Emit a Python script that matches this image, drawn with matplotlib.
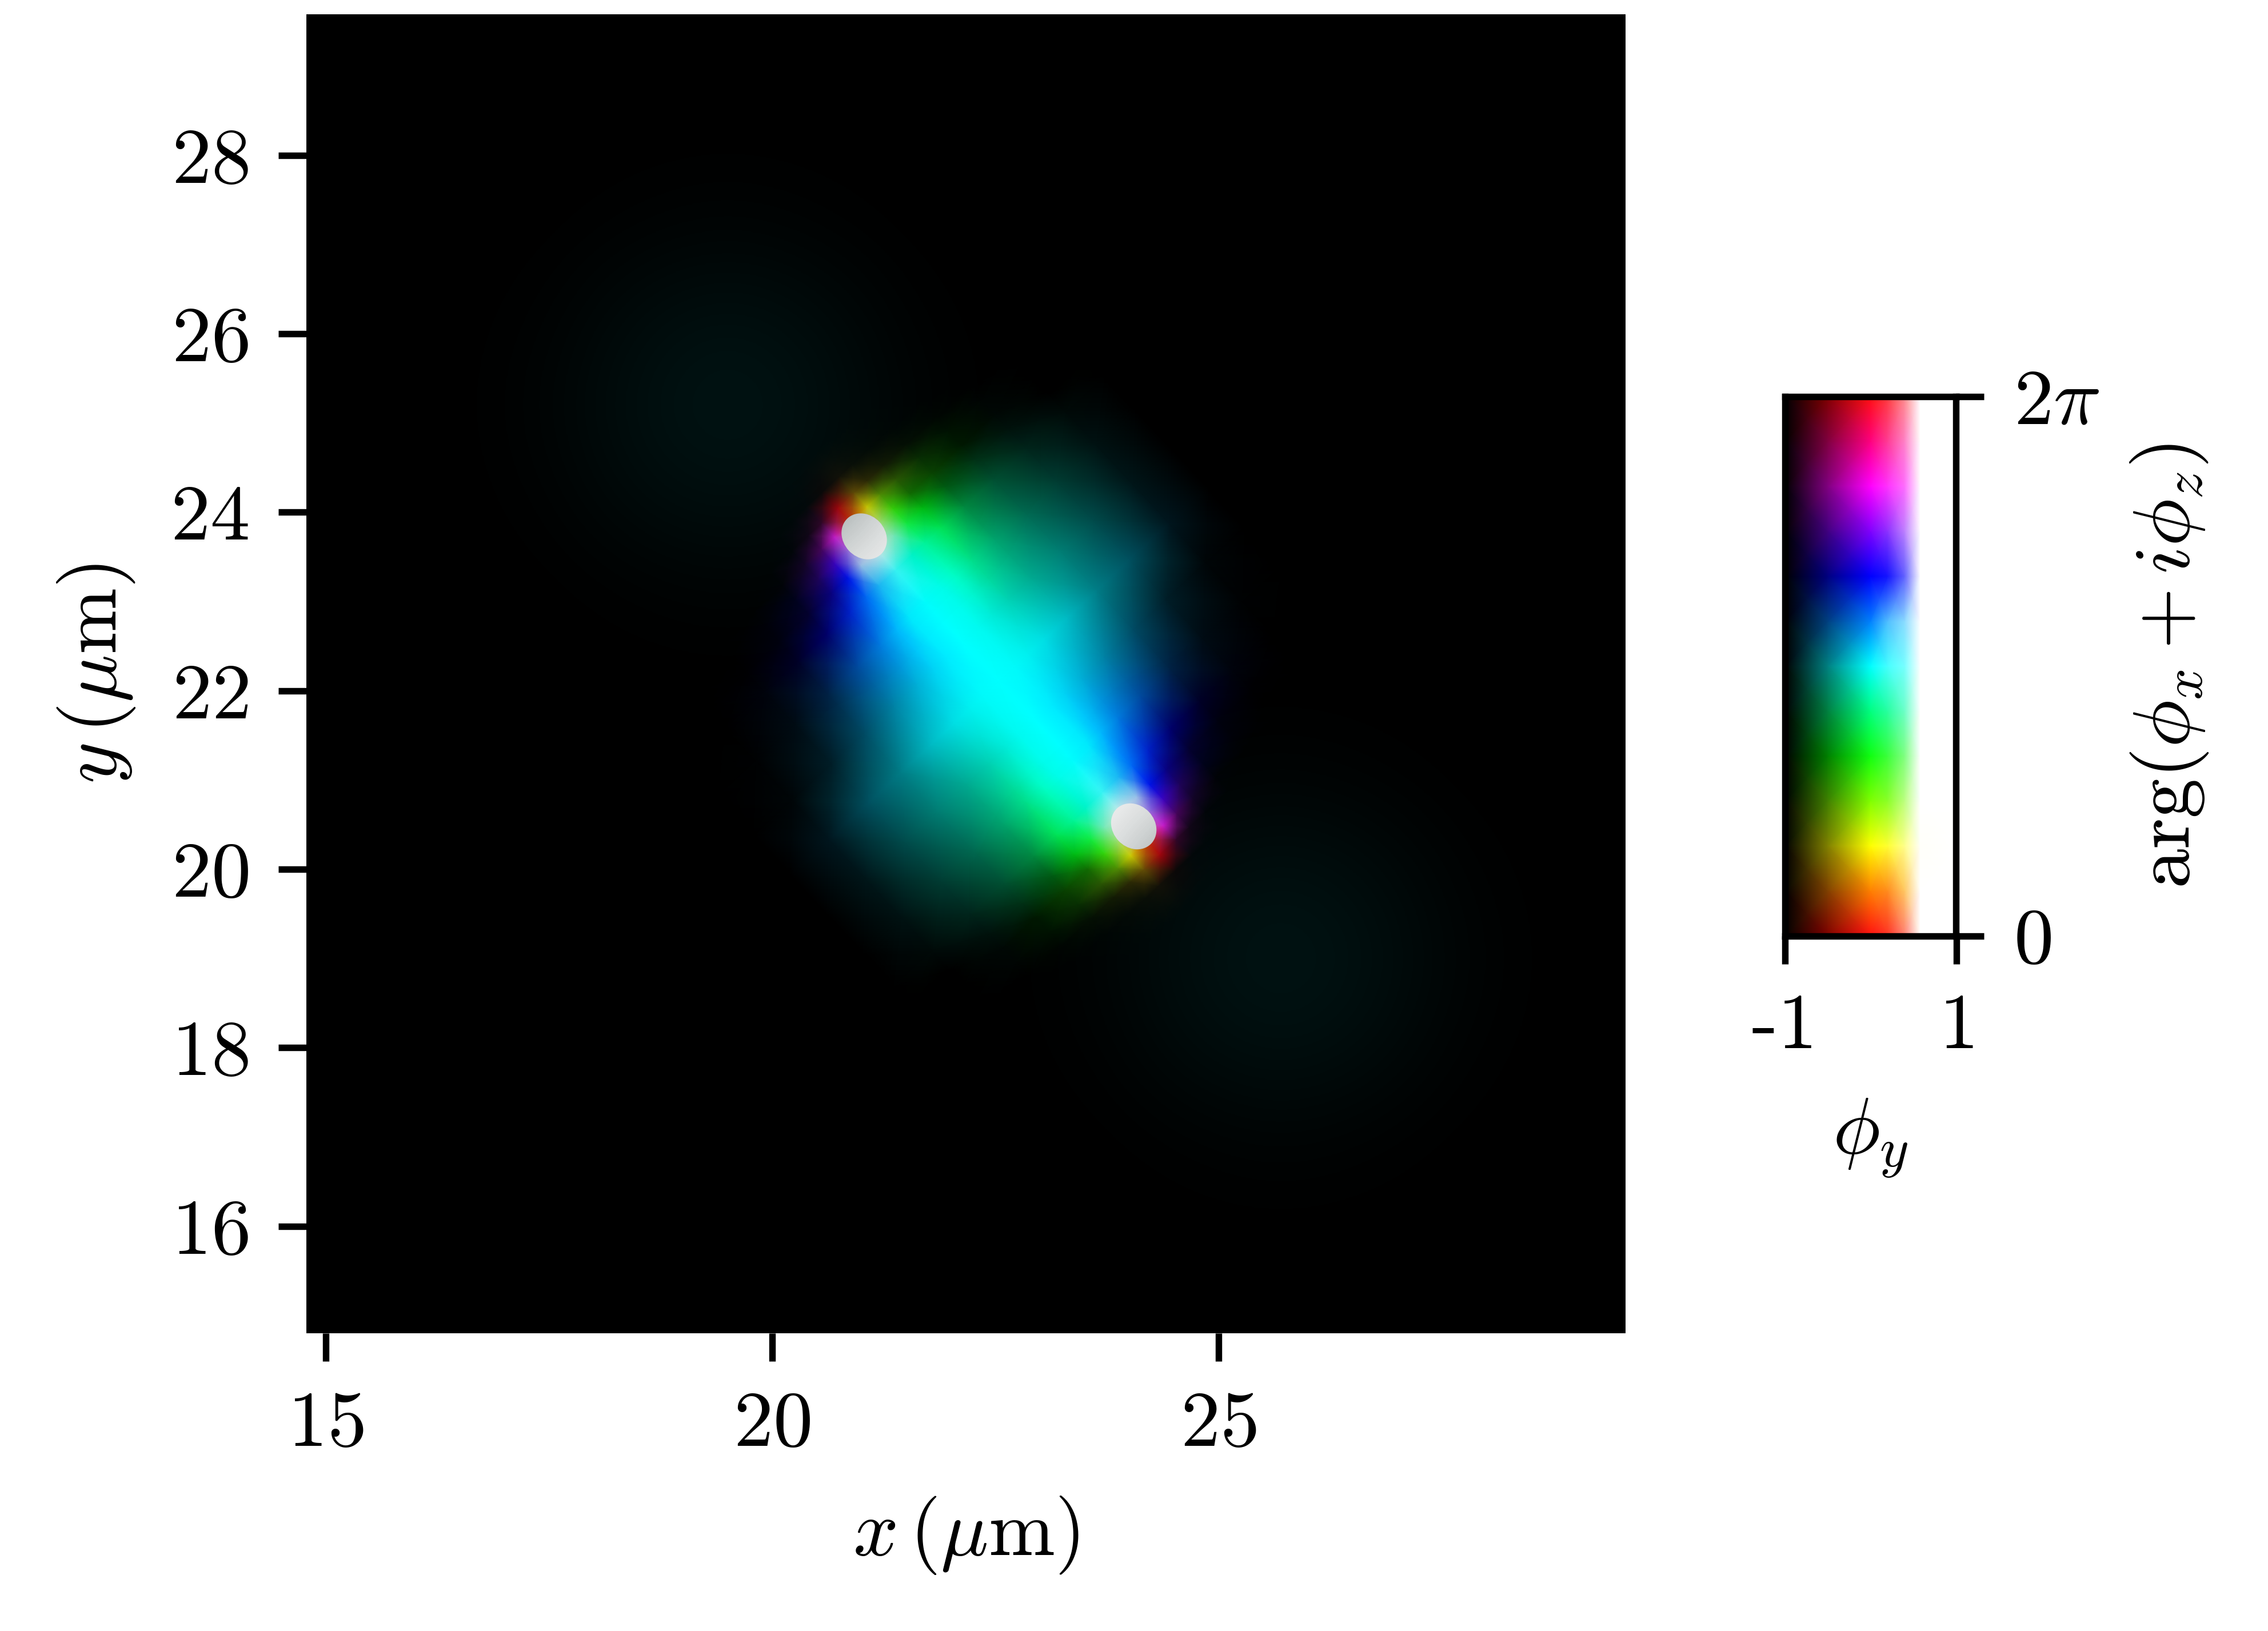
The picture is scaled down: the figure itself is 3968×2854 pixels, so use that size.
import numpy as np
import matplotlib
matplotlib.use("Agg")
import matplotlib.pyplot as plt
from matplotlib.colors import LinearSegmentedColormap, to_rgb
from matplotlib.patches import Ellipse

plt.rcParams["font.family"] = ["cmr10", "DejaVu Sans"]
plt.rcParams["mathtext.fontset"] = "cm"
plt.rcParams["axes.unicode_minus"] = False
plt.rcParams["axes.formatter.use_mathtext"] = True

# field colours, on a frame rotated along the two cores
CORE_A = (21.03, 23.73)
CORE_B = (24.05, 20.48)
CORE_LONG = 0.55
CORE_SHORT = 0.47
V_NODES = [-3.2, -2.6, -2.0, -1.5, -1.05, -0.7, -0.45, -0.25, 0, 0.25, 0.45, 0.7, 1.05, 1.5, 2.0, 2.6, 3.2]
U_NODES = [-3.3, -2.9, -2.65, -2.44, -2.22, -2.0, -1.7, -1.2, -0.6, 0]
FIELD_HALF = [
    "000000 000000 000000 000000 000000 000000 000000 000000 000000 000000 000000 000000 000000 000000 000000 000000 000000",
    "000000 000000 000000 000000 000000 000000 020002 050003 140000 1e0f00 0f0c00 050600 010200 000000 000000 000000 000000",
    "000000 000000 000000 000000 000000 030005 190019 460032 e6000a 8c6400 3c3200 191e00 050f00 000500 000000 000000 000000",
    "000000 000000 000000 000000 020005 19002d 5a006e ff1eff ff3c0a fffa00 64aa00 326400 0a3200 001200 000503 000000 000000",
    "000000 000000 000000 000008 02001e 230064 4600dc aa78ff ffffff b4ff78 3cf00a 147800 0a4600 001900 000805 000000 000000",
    "000000 000000 000003 00000f 050032 0a008c 0014ff aad2ff ebffff 82ffc8 14ff46 00c814 005f14 003216 00120c 000000 000000",
    "000000 000000 00030c 000028 00006e 0023d2 006eff 1ebeff 3cffff 00ffd2 00ffa0 00eb5a 008c41 005032 00261c 000a08 000000",
    "000000 000203 000c14 002346 004ba0 007de1 00b9ff 00ebff 00ffff 00ffeb 00ffc8 00e18c 00a56e 006950 003c32 001212 000000",
    "000000 000608 001e28 004b64 0082a5 00afd7 00d2f5 00ebff 00ffff 00faf0 00ebd7 00d2b4 00aa91 007d73 004b4b 001619 000000",
    "000000 00161e 00505f 007d87 00b9c3 00dee4 00f0f0 00fafa 00ffff 00fafa 00f0f0 00dee4 00b9c3 007d87 00505f 00161e 000000",
]

# faint teal glow beyond each core, 1 um spacing
GLOW_A_CENTRE = (19.5, 25.2)
GLOW_B_CENTRE = (25.7, 19.0)
GLOW_PATCH = [
    [0, 0, 0, 0, 0, 0, 0],
    [0, 0, 0.1, 0.2, 0.1, 0, 0],
    [0, 0.1, 0.5, 0.7, 0.5, 0.1, 0],
    [0, 0.2, 0.7, 1.0, 0.7, 0.2, 0],
    [0, 0.1, 0.5, 0.7, 0.5, 0.1, 0],
    [0, 0, 0.1, 0.2, 0.1, 0, 0],
    [0, 0, 0, 0, 0, 0, 0],
]

# colour key: rows go up the phase axis, columns across phi_y
KEY_PHI = [-1.0, -0.5, 0.0, 0.2, 0.4, 0.58, 1.0]
KEY_PHASE = [i * np.pi / 6 for i in range(13)]
KEY_COLOURS = [
    "000000 800000 ff1010 ff3228 ff8278 ffffff ffffff",
    "000000 804000 ff8000 ff8c1e ffc864 ffffff ffffff",
    "000000 808000 ffff00 ffff32 ffff8c fffffa ffffff",
    "000000 408000 80ff00 8cff28 beff82 ffffff ffffff",
    "000000 008000 10ff10 3cff3c 82ff82 ffffff ffffff",
    "000000 008040 00ff80 28ffa0 6effc8 ffffff ffffff",
    "000000 008080 00ffff 46ffff 78ffff ffffff ffffff",
    "000000 004080 0080ff 50beff 8cdcff ffffff ffffff",
    "000000 000080 0000ff 1414ff 6464ff ffffff ffffff",
    "000000 400080 8000ff 8c32ff be82ff ffffff ffffff",
    "000000 800080 ff00ff ff32ff ff6eff ffffff ffffff",
    "000000 800040 ff0080 ff3c96 ff82c8 ffffff ffffff",
    "000000 800000 ff1010 ff3c3c ff8c8c ffffff ffffff",
]

X_TICKS = [15, 20, 25]
Y_TICKS = [16, 18, 20, 22, 24, 26, 28]
X_LIM = (14.78, 29.56)
Y_LIM = (14.8, 29.58)

W, H = 3968, 2854
TICK_LEN = 5.88
TICK_W = 1.37
FS = 16.7


def hex_table(rows):
    return np.array([[to_rgb("#" + c) for c in r.split()] for r in rows])


def main():
    fig = plt.figure(figsize=(W / 600, H / 600), dpi=600)
    ax = fig.add_axes([536 / W, (H - 2333) / H, 2308 / W, 2308 / H], facecolor="black")
    for s in ax.spines.values():
        s.set_visible(False)

    half = hex_table(FIELD_HALF)
    colours = np.vstack([half, half[-2::-1, ::-1]])
    u = np.array(U_NODES + [-x for x in U_NODES[-2::-1]])
    v = np.array(V_NODES)
    cx, cy = (CORE_A[0] + CORE_B[0]) / 2, (CORE_A[1] + CORE_B[1]) / 2
    dx, dy = CORE_B[0] - CORE_A[0], CORE_B[1] - CORE_A[1]
    d = np.hypot(dx, dy)
    eu = (dx / d, dy / d)
    ev = (-dy / d, dx / d)
    uu, vv = np.meshgrid(u, v, indexing="ij")
    ax.pcolormesh(cx + uu * eu[0] + vv * ev[0], cy + uu * eu[1] + vv * ev[1],
                  colours, shading="gouraud", rasterized=True)

    # saturated white cores
    angle = np.degrees(np.arctan2(dy, dx))
    for c in (CORE_A, CORE_B):
        ax.add_patch(Ellipse(c, CORE_LONG, CORE_SHORT, angle=angle, fc="white", ec="none", zorder=2))

    glow_cmap = LinearSegmentedColormap.from_list(
        "glow", [(0, 0.09, 0.09, 0), (0, 0.09, 0.09, 1)])
    for c in (GLOW_A_CENTRE, GLOW_B_CENTRE):
        ax.imshow(GLOW_PATCH, cmap=glow_cmap, vmin=0, vmax=1, interpolation="bicubic",
                  extent=(c[0] - 3.5, c[0] + 3.5, c[1] - 3.5, c[1] + 3.5), zorder=3)

    ax.set_aspect("auto")
    ax.set_xlim(*X_LIM)
    ax.set_ylim(*Y_LIM)
    ax.set_xticks(X_TICKS, [f"${t}$" for t in X_TICKS])
    ax.set_yticks(Y_TICKS, [f"${t}$" for t in Y_TICKS])
    ax.tick_params(length=TICK_LEN, width=TICK_W, labelsize=FS, pad=6.2)
    ax.set_xlabel(r"$x\,(\mu\mathrm{m})$", fontsize=FS, labelpad=7)
    ax.set_ylabel(r"$y\,(\mu\mathrm{m})$", fontsize=FS, labelpad=7)

    # colour key
    key = fig.add_axes([3122.5 / W, (H - 1637.5) / H, 300 / W, 943.5 / H])
    key.pcolormesh(KEY_PHI, KEY_PHASE, hex_table(KEY_COLOURS), shading="gouraud", rasterized=True)
    key.set_xlim(-1, 1)
    key.set_ylim(0, 2 * np.pi)
    key.set_xticks([-1, 1], ["-1", "$1$"])
    key.set_yticks([0, 2 * np.pi], ["$0$", r"$2\pi$"])
    key.yaxis.tick_right()
    key.yaxis.set_label_position("right")
    key.tick_params(length=TICK_LEN, width=TICK_W, labelsize=FS, pad=6.2)
    for s in key.spines.values():
        s.set_linewidth(TICK_W)
    key.set_xlabel(r"$\phi_y$", fontsize=FS, labelpad=7)
    key.set_ylabel(r"$\mathrm{arg}(\phi_x + i\phi_z)$", fontsize=FS, labelpad=6)

    fig.savefig("out.png", dpi=600)
    plt.close(fig)


if __name__ == "__main__":
    main()
